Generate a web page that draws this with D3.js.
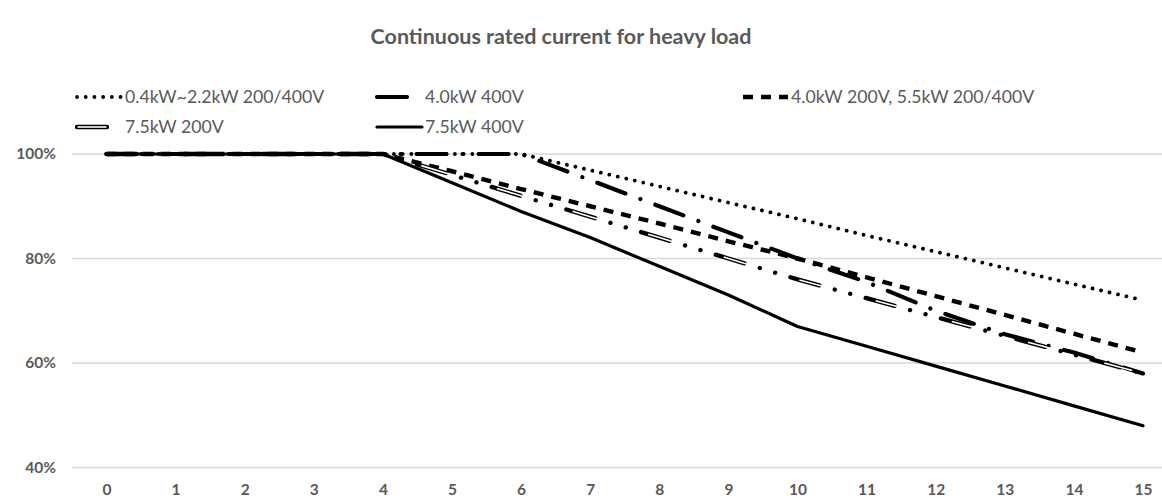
<!DOCTYPE html>
<html><head><meta charset="utf-8">
<script src="https://cdn.jsdelivr.net/npm/d3@7"></script>
<style>body{margin:0;background:#fff}svg{display:block}text{font-family:Lato,"Open Sans",sans-serif;fill:#595959}</style>
</head><body><svg id="c" width="1162" height="500"></svg>
<script>
const title = "Continuous rated current for heavy load";
const categories = [0,1,2,3,4,5,6,7,8,9,10,11,12,13,14,15];
const yTicks = [40,60,80,100];
const seriesNames = ["0.4kW~2.2kW 200/400V","4.0kW 400V","4.0kW 200V, 5.5kW 200/400V","7.5kW 200V","7.5kW 400V"];
const s1 = [100,100,100,100,100,100,100,96.9,93.8,90.7,87.6,84.4,81.3,78.2,75.1,72];
const s2 = [100,100,100,100,100,100,100,95,90,85,80,75.5,70,65.5,62,58];
const s3 = [100,100,100,100,100,96.7,93.3,90,86.7,83.3,80,76.4,72.8,69.2,65.6,62];
const s4 = [100,100,100,100,100,96,92,88,84,80,76,72.4,68.8,65.2,61.6,58];
const s5 = [100,100,100,100,100,94.5,89,84,78.5,73,67,63.2,59.4,55.6,51.8,48];
const seriesValues = [s1,s2,s3,s4,s5];

const svg = d3.select("#c");
const x = d3.scalePoint().domain(categories).range([106.5,1143]);
const y = d3.scaleLinear().domain([40,100]).range([467.5,154]);

// title
svg.append("text").attr("x",561).attr("y",44).attr("text-anchor","middle")
  .style("font-size","21.5px").style("font-weight","bold").text(title);

// gridlines
svg.append("g").selectAll("line").data(yTicks).join("line")
  .attr("x1",72).attr("x2",1162).attr("y1",d=>y(d)).attr("y2",d=>y(d))
  .attr("stroke","#d9d9d9").attr("stroke-width",1.3);

// y axis labels
const ya = svg.append("g").attr("transform","translate(56,0)")
  .call(d3.axisLeft(y).tickValues(yTicks).tickSize(0).tickPadding(0).tickFormat(d=>d+"%"));
ya.select(".domain").remove();
ya.selectAll("text").style("font-size","15.5px").style("font-weight","bold").style("font-family","Lato,sans-serif").attr("fill","#595959");

// x axis labels
const xa = svg.append("g").attr("transform","translate(0,484)")
  .call(d3.axisBottom(x).tickSize(0).tickPadding(0));
xa.select(".domain").remove();
xa.selectAll("text").style("font-size","15.5px").style("font-weight","bold").style("font-family","Lato,sans-serif").attr("fill","#595959");

const styles = [
  {w:3.8, dash:"0.01 8.7", cap:"round"},
  {w:4.2, dash:"30 16 0.01 16", cap:"round"},
  {w:4.4, dash:"10 8", cap:"butt"},
  {w:4.4, dash:"30 16 0.01 16 0.01 16", cap:"round", inner:true},
  {w:3.2, dash:null, cap:"round"}
];

const line = d3.line().x((d,i)=>x(categories[i])).y(d=>y(d));
const lg = svg.append("g");
seriesValues.forEach((vals,k)=>{
  const st = styles[k];
  const p = lg.append("path").datum(vals).attr("d",line).attr("fill","none")
    .attr("stroke","#000").attr("stroke-width",st.w).attr("stroke-linecap",st.cap).attr("stroke-linejoin","round");
  if(st.dash) p.attr("stroke-dasharray",st.dash);
  if(st.inner){
    lg.append("path").datum(vals).attr("d",line).attr("fill","none")
      .attr("stroke","#fff").attr("stroke-width",1.6).attr("stroke-dasharray","29 50").attr("stroke-dashoffset",-0.5);
  }
});

// legend
const legPos = [[77,97],[377,97],[743,97],[77,127],[377,127]];
const leg = svg.append("g");
seriesNames.forEach((n,k)=>{
  const st = styles[k];
  const [lx,ly] = legPos[k];
  const l = leg.append("line").attr("x1",lx).attr("x2",lx+45).attr("y1",ly).attr("y2",ly)
    .attr("stroke","#000").attr("stroke-width",st.w).attr("stroke-linecap",st.cap);
  if(st.dash) l.attr("stroke-dasharray",st.dash);
  if(st.inner) leg.append("line").attr("x1",lx+0.5).attr("x2",lx+29.5).attr("y1",ly).attr("y2",ly)
    .attr("stroke","#fff").attr("stroke-width",1.6);
  leg.append("text").attr("x",lx+48).attr("y",ly+6).style("font-size","17.7px").text(n);
});
</script></body></html>
